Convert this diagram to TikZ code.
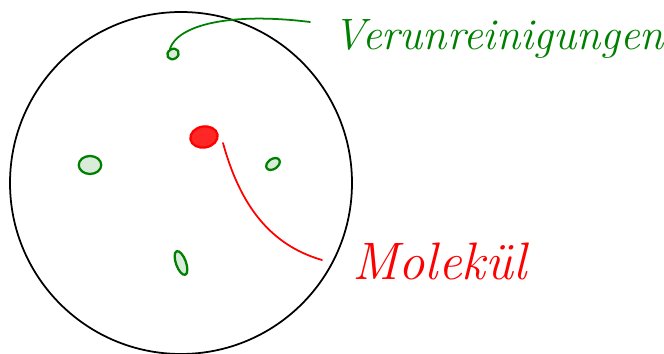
\documentclass[tikz,border=0pt]{standalone}
\usepackage{amsmath,amssymb}
\usetikzlibrary{positioning,shapes.geometric,calc}
\definecolor{grn}{RGB}{0,128,0}
\definecolor{rd}{RGB}{255,0,0}

\begin{document}
\begin{tikzpicture}[x=0.02cm, y=-0.02cm, line cap=round, line join=round,
  imp/.style={draw=grn, ellipse, line width=1.3pt, inner sep=0pt, fill=grn!15},
  mol/.style={draw=rd, fill=rd!85, ellipse, line width=1.3pt, inner sep=0pt, minimum width=0.55cm, minimum height=0.42cm, rotate=10},
  lbl/.style={anchor=base west, inner sep=0pt, font=\itshape}]
\useasboundingbox (0,0) rectangle (664,354);
\draw[line width=1pt] (181,183) circle[radius=171];
\node[imp, minimum width=0.24cm, minimum height=0.2cm, rotate=30] (imp1) at (173,54) {};
\node[imp, minimum width=0.45cm, minimum height=0.36cm] (imp2) at (90,165) {};
\node[imp, minimum width=0.3cm, minimum height=0.2cm, rotate=35] (imp3) at (273,164) {};
\node[imp, minimum width=0.2cm, minimum height=0.5cm, rotate=20] (imp4) at (181,263) {};
\node[mol] (mol) at (204,137) {};
\node[lbl, text=grn, font=\itshape\fontsize{25}{28}\selectfont] (vlbl) at (333,50) {Verunreinigungen};
\node[lbl, text=rd, font=\itshape\fontsize{30}{32}\selectfont] (mlbl) at (352,280) {Molekül};
\coordinate (vend) at (310,22);
\coordinate (mstart) at (223,143);
\coordinate (mend) at (322,260);
\draw[grn, line width=1pt] (imp1.north) .. controls (178,25) and (230,12) .. (vend);
\draw[rd, line width=1pt] (mstart) .. controls (240,205) and (270,245) .. (mend);
\end{tikzpicture}
\end{document}
